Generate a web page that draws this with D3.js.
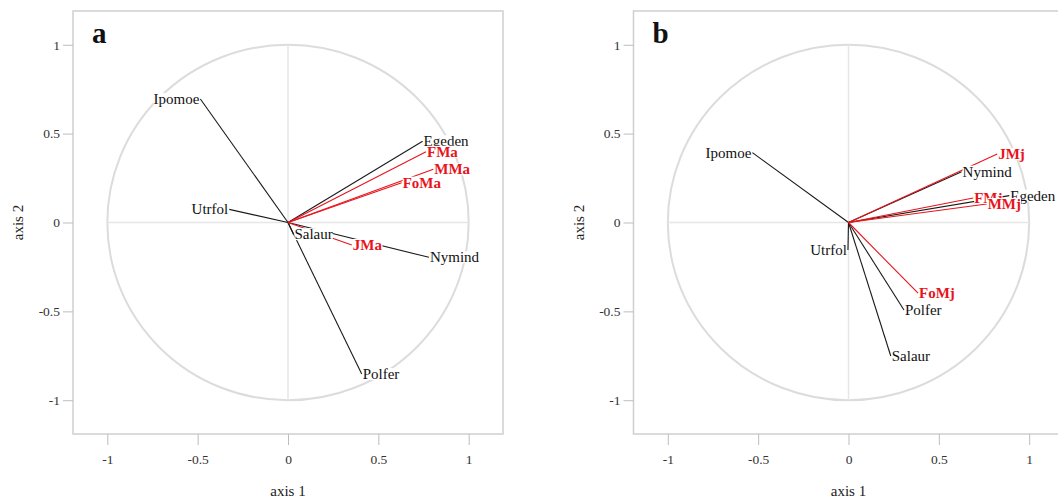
<!DOCTYPE html>
<html>
<head>
<meta charset="utf-8">
<style>
  body { margin: 0; background: #fff; }
  svg { display: block; font-family: "Liberation Serif", "DejaVu Serif", serif; }
</style>
</head>
<body>
<svg id="chart" width="1058" height="499"></svg>
<script src="https://cdn.jsdelivr.net/npm/d3@7"></script>
<script>
// tick values on both axes
var tickValues = [-1, -0.5, 0, 0.5, 1]
var tickLabels = ['-1', '-0.5', '0', '0.5', '1']

// panel a : adult fish vs plant species
var namesA = ['Ipomoe', 'Egeden', 'Utrfol', 'Salaur', 'Nymind', 'Polfer', 'FMa', 'MMa', 'FoMa', 'JMa']
var axis1A = [-0.485, 0.745, -0.325, 0.030, 0.780, 0.408, 0.764, 0.804, 0.629, 0.353]
var axis2A = [0.695, 0.457, 0.074, -0.066, -0.196, -0.853, 0.398, 0.299, 0.224, -0.127]
var isFishA = [0, 0, 0, 0, 0, 0, 1, 1, 1, 1]

// panel b : juvenile fish vs plant species
var namesB = ['Ipomoe', 'Nymind', 'Egeden', 'Utrfol', 'Polfer', 'Salaur', 'JMj', 'FMj', 'MMj', 'FoMj']
var axis1B = [-0.532, 0.626, 0.890, -0.003, 0.307, 0.234, 0.823, 0.690, 0.765, 0.385]
var axis2B = [0.393, 0.286, 0.151, -0.155, -0.492, -0.751, 0.385, 0.138, 0.104, -0.398]
var isFishB = [0, 0, 0, 0, 0, 0, 1, 1, 1, 1]

var svg = d3.select('#chart')
var red = '#e8141c'
var W = 430, H = 423

function panel(left, top, letter, names, a1, a2, fish) {
  var x = d3.scaleLinear().domain([-1.19, 1.19]).range([left, left + W])
  var y = d3.scaleLinear().domain([-1.19, 1.19]).range([top + H, top])
  var g = svg.append('g')

  g.append('rect')
    .attr('x', left).attr('y', top).attr('width', W).attr('height', H)
    .attr('fill', 'none').attr('stroke', '#cfcfcf').attr('stroke-width', 1.5)

  // axes
  var xa = g.append('g').attr('transform', 'translate(0,' + (top + H) + ')')
    .call(d3.axisBottom(x).tickValues(tickValues).tickSize(11).tickPadding(9)
      .tickFormat(function(d, i) { return tickLabels[i] }))
  var ya = g.append('g').attr('transform', 'translate(' + left + ',0)')
    .call(d3.axisLeft(y).tickValues(tickValues).tickSize(10).tickPadding(3)
      .tickFormat(function(d, i) { return tickLabels[i] }))
  ;[xa, ya].forEach(function(ax) {
    ax.attr('font-family', 'Liberation Serif').attr('font-size', 13.5)
    ax.select('.domain').remove()
    ax.selectAll('.tick line').attr('stroke', '#bdbdbd')
    ax.selectAll('.tick text').attr('fill', '#333')
  })

  // correlation circle and cross
  g.append('ellipse')
    .attr('cx', x(0)).attr('cy', y(0))
    .attr('rx', x(1) - x(0)).attr('ry', y(0) - y(1))
    .attr('fill', 'none').attr('stroke', '#dcdcdc').attr('stroke-width', 2)
  g.append('line').attr('x1', x(-1)).attr('x2', x(1)).attr('y1', y(0)).attr('y2', y(0))
    .attr('stroke', '#e6e6e6').attr('stroke-width', 1.5)
  g.append('line').attr('x1', x(0)).attr('x2', x(0)).attr('y1', y(1)).attr('y2', y(-1))
    .attr('stroke', '#e6e6e6').attr('stroke-width', 1.5)

  var data = names.map(function(n, i) {
    return { name: n, a1: a1[i], a2: a2[i], fish: fish[i] }
  })

  g.selectAll('line.vec').data(data).enter().append('line')
    .attr('class', 'vec')
    .attr('x1', x(0)).attr('y1', y(0))
    .attr('x2', function(d) { return x(d.a1) })
    .attr('y2', function(d) { return y(d.a2) })
    .attr('stroke', function(d) { return d.fish ? red : '#1a1a1a' })
    .attr('stroke-width', 1.1)

  // labels with white background
  data.forEach(function(d) {
    var lg = g.append('g')
    var right = d.a1 >= 0
    var t = lg.append('text')
      .attr('x', x(d.a1) + (right ? 1 : -1))
      .attr('y', y(d.a2))
      .attr('dy', '0.33em')
      .attr('text-anchor', right ? 'start' : 'end')
      .attr('fill', d.fish ? red : '#111')
      .attr('font-family', 'Liberation Serif')
      .style('font-size', '15px')
      .style('font-weight', d.fish ? 'bold' : 'normal')
      .text(d.name)
    var bb = t.node().getBBox()
    lg.insert('rect', 'text')
      .attr('x', bb.x).attr('y', bb.y + 2)
      .attr('width', bb.width).attr('height', bb.height - 4)
      .attr('fill', '#fff')
  })

  g.append('text')
    .attr('x', left + 19).attr('y', top + 32)
    .style('font-size', '29px').style('font-weight', 'bold')
    .attr('fill', '#111')
    .text(letter)

  g.append('text')
    .attr('x', left + W / 2).attr('y', 496)
    .attr('text-anchor', 'middle')
    .style('font-size', '15px').attr('fill', '#222')
    .text('axis 1')
  g.append('text')
    .attr('transform', 'translate(' + (left - 50) + ',' + (top + H / 2) + ') rotate(-90)')
    .attr('text-anchor', 'middle')
    .style('font-size', '15px').attr('fill', '#222')
    .text('axis 2')
}

panel(73, 11, 'a', namesA, axis1A, axis2A, isFishA)
panel(633.5, 11, 'b', namesB, axis1B, axis2B, isFishB)
</script>
</body>
</html>
